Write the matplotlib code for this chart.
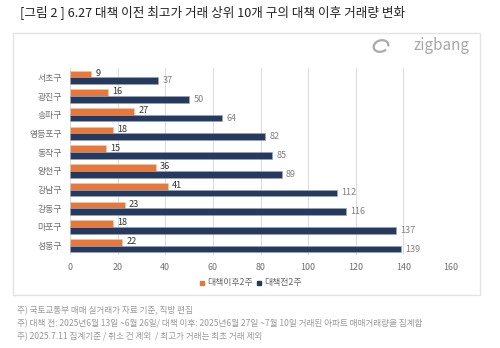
import numpy as np
import matplotlib.pyplot as plt
from matplotlib.patches import Rectangle, Arc

plt.rcParams['font.family'] = ['Noto Sans CJK KR', 'DejaVu Sans']

districts = ["서초구", "광진구", "송파구", "영등포구", "동작구", "양천구", "강남구", "강동구", "마포구", "성동구"]
after_2w = [9, 16, 27, 18, 15, 36, 41, 23, 18, 22]
before_2w = [37, 50, 64, 82, 85, 89, 112, 116, 137, 139]
x_ticks = [0, 20, 40, 60, 80, 100, 120, 140, 160]

orange = "#E8783A"
navy = "#263A5F"

fig = plt.figure(figsize=(5, 3.48), dpi=100)
ax = fig.add_axes([0.14, 1 - 255 / 348, 0.762, 187 / 348])

y = np.arange(len(districts))
h = 0.36
ax.barh(y - h / 2, after_2w, height=h, color=orange, edgecolor="#f3c6a8", linewidth=0.4, zorder=3)
ax.barh(y + h / 2, before_2w, height=h, color=navy, edgecolor="#9aa6bb", linewidth=0.4, zorder=3)

for yi, v in zip(y, after_2w):
    ax.annotate(str(v), (v, yi - h / 2), xytext=(3, 0.5), textcoords="offset points",
                va="center", ha="left", fontsize=6.6, color="#333333")
for yi, v in zip(y, before_2w):
    ax.annotate(str(v), (v, yi + h / 2), xytext=(3, 0), textcoords="offset points",
                va="center", ha="left", fontsize=6.5, color="#808080")

ax.set_xlim(0, 160)
ax.set_ylim(len(districts) - 0.5, -0.5)
ax.set_xticks(x_ticks)
ax.set_yticks(y)
ax.set_yticklabels(districts)
ax.tick_params(axis="both", length=0, labelsize=6.4, labelcolor="#707070")
ax.tick_params(axis="y", pad=6)
ax.tick_params(axis="x", pad=6)
ax.grid(axis="x", color="#dddddd", linewidth=0.8, zorder=0)
for s in ax.spines.values():
    s.set_visible(False)
ax.axvline(0, color="#cccccc", linewidth=0.8, zorder=1)

# outer frame
fig.patches.append(Rectangle((13 / 500, 1 - 295 / 348), 467 / 500, 262 / 348,
                             transform=fig.transFigure, fill=False,
                             edgecolor="#e3e3e3", linewidth=1.0))

fig.text(20 / 500, 1 - 12 / 348, "[그림 2 ] 6.27 대책 이전 최고가 거래 상위 10개 구의 대책 이후 거래량 변화",
         fontsize=9.1, color="#222222", va="center", ha="left")

# logo
fig.text(470 / 500, 1 - 46 / 348, "zigbang", fontsize=11, color="#a8a8a8",
         va="center", ha="right")
fig.patches.append(Arc((381 / 500, 1 - 46 / 348), 14 / 500, 12 / 348, angle=-25,
                       theta1=20, theta2=340, transform=fig.transFigure,
                       color="#aaaaaa", linewidth=1.6))

# legend
fig.patches.append(Rectangle((200 / 500, 1 - 284.5 / 348), 4 / 500, 4 / 348,
                             transform=fig.transFigure, color=orange))
fig.text(207 / 500, 1 - 282.5 / 348, "대책이후2주", fontsize=6.4, color="#666666", va="center")
fig.patches.append(Rectangle((257 / 500, 1 - 284.5 / 348), 4 / 500, 4 / 348,
                             transform=fig.transFigure, color=navy))
fig.text(264 / 500, 1 - 282.5 / 348, "대책전2주", fontsize=6.4, color="#666666", va="center")

notes = [
    "주) 국토교통부 매매 실거래가 자료 기준, 직방 편집",
    "주) 대책 전: 2025년6월 13일 ~6월 26일/ 대책 이후: 2025년6월 27일 ~7월 10일 거래된 아파트 매매거래량을 집계함",
    "주) 2025.7.11 집계기준 / 취소 건 제외  / 최고가 거래는 최초 거래 제외",
]
for i, n in enumerate(notes):
    fig.text(17 / 500, 1 - (311 + 13 * i) / 348, n, fontsize=6.2, color="#999999", va="center", ha="left")

fig.savefig("out.png", dpi=100)
